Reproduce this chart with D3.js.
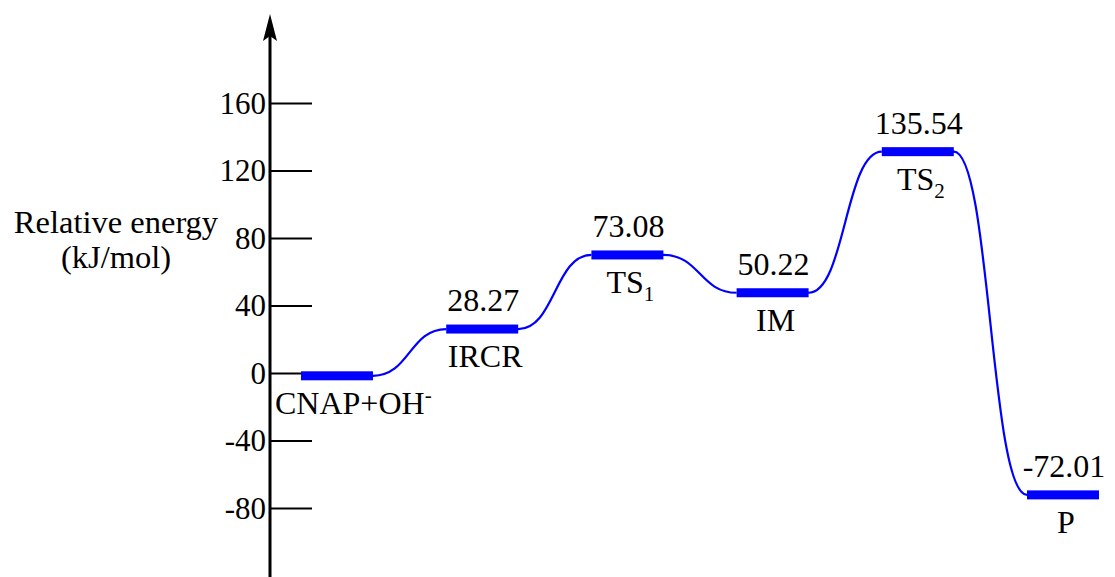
<!DOCTYPE html>
<html>
<head>
<meta charset="utf-8">
<script src="https://cdn.jsdelivr.net/npm/d3@7"></script>
</head>
<body style="margin:0">
<svg id="chart" width="1115" height="577"></svg>
<script>
// ---- data ----
const categories = ["CNAP+OH-", "IRCR", "TS1", "IM", "TS2", "P"];
const energies = [0, 28.27, 73.08, 50.22, 135.54, -72.01];
const valueLabels = ["", "28.27", "73.08", "50.22", "135.54", "-72.01"];
// label pieces: base text, subscript, superscript
const nameBase = ["CNAP+OH", "IRCR", "TS", "IM", "TS", "P"];
const nameSub = ["", "", "1", "", "2", ""];
const nameSup = ["-", "", "", "", "", ""];
const tickValues = [-80, -40, 0, 40, 80, 120, 160];
const yTitle = ["Relative energy", "(kJ/mol)"];

// ---- layout ----
const H = 577;
const fontName = "Liberation Serif";
const FONT = `'${fontName}'`;
const svg = d3.select("#chart");
const axisX = 270;
const blue = "#0000ff";

// axis scale
const y = d3.scaleLinear().domain([-80, 160]).range([508, 103]);
// energy level placement scale (levels in the original are drawn slightly compressed)
const yLevel = d3.scaleLinear().domain([-80, 160]).range([508.1, 111.2]);
const x = d3.scalePoint().domain(categories).range([337, 1063]);
const barW = 72, barH = 9;

// axis line with arrow
svg.append("line")
  .attr("x1", axisX).attr("x2", axisX)
  .attr("y1", H).attr("y2", 36)
  .attr("stroke", "#000").attr("stroke-width", 3);
svg.append("path")
  .attr("d", `M${axisX},14 L${axisX - 7},41 L${axisX},36 L${axisX + 7},41 Z`)
  .attr("fill", "#000");

// ticks via d3 axis
const axis = d3.axisRight(y).tickValues(tickValues).tickSize(42).tickFormat(d => String(d));
const gAxis = svg.append("g").attr("transform", `translate(${axisX},0)`).call(axis);
gAxis.attr("font-family", null).attr("font-size", null);
gAxis.select(".domain").remove();
gAxis.selectAll(".tick line").attr("stroke", "#000").attr("stroke-width", 1.8);
gAxis.selectAll(".tick text")
  .attr("x", -4).attr("dy", "0.33em")
  .attr("text-anchor", "end")
  .style("font-family", FONT)
  .style("font-size", "31px")
  .attr("fill", "#000");

// y title
svg.selectAll("text.ytitle").data(yTitle).join("text")
  .attr("class", "ytitle")
  .attr("x", 116).attr("y", (d, i) => 233 + i * 35)
  .attr("text-anchor", "middle")
  .style("font-family", FONT)
  .style("font-size", "32.5px")
  .text(d => d);

// connecting curves
const data = categories.map((c, i) => ({ c, i, e: energies[i] }));
for (let i = 0; i < data.length - 1; i++) {
  const x0 = x(data[i].c) + barW / 2, y0 = yLevel(data[i].e);
  const x1 = x(data[i + 1].c) - barW / 2, y1 = yLevel(data[i + 1].e);
  const dx = (x1 - x0) * 0.5;
  const p = d3.path();
  p.moveTo(x0 - 2, y0);
  p.lineTo(x0, y0);
  p.bezierCurveTo(x0 + dx, y0, x1 - dx, y1, x1, y1);
  svg.append("path").attr("d", p.toString())
    .attr("fill", "none").attr("stroke", blue).attr("stroke-width", 2.2);
}

// bars
svg.selectAll("rect.level").data(data).join("rect")
  .attr("class", "level")
  .attr("x", d => x(d.c) - barW / 2)
  .attr("y", d => yLevel(d.e) - barH / 2)
  .attr("width", barW).attr("height", barH)
  .attr("fill", blue);

// value labels
svg.selectAll("text.val").data(data.filter(d => valueLabels[d.i] !== "")).join("text")
  .attr("class", "val")
  .attr("x", d => x(d.c) + 1)
  .attr("y", d => yLevel(d.e) - 18)
  .attr("text-anchor", "middle")
  .style("font-family", FONT)
  .style("font-size", "32px")
  .text(d => valueLabels[d.i]);

// name labels
const names = svg.selectAll("text.name").data(data).join("text")
  .attr("class", "name")
  .attr("x", d => d.i === 0 ? x(d.c) - barW / 2 - 26 : x(d.c) + 3)
  .attr("y", d => yLevel(d.e) + 38)
  .attr("text-anchor", d => d.i === 0 ? "start" : "middle")
  .style("font-family", FONT)
  .style("font-size", "32px");
names.append("tspan").text(d => nameBase[d.i]);
names.filter(d => nameSub[d.i] !== "").append("tspan")
  .attr("dy", 8).style("font-size", "21px").text(d => nameSub[d.i]);
names.filter(d => nameSup[d.i] !== "").append("tspan")
  .attr("dy", -12).style("font-size", "21px").text(d => nameSup[d.i]);
</script>
</body>
</html>
